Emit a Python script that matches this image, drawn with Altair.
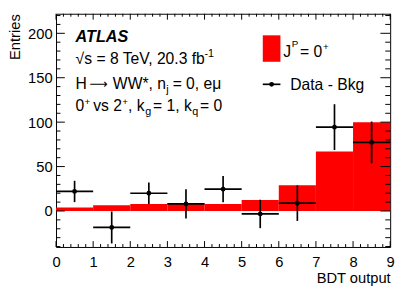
import altair as alt
import pandas as pd

# ---- data ----
bin_lo = [0, 1, 2, 3, 4, 5, 6, 7, 8]
bin_hi = [1, 2, 3, 4, 5, 6, 7, 8, 9]
signal = [4, 6.5, 8, 9, 8, 12.5, 29, 67, 100]          # J^P = 0+ expectation
data_x = [0.5, 1.5, 2.5, 3.5, 4.5, 5.5, 6.5, 7.5, 8.5]
data_y = [22, -18.5, 20, 8, 24.6, -3.3, 8.8, 94.4, 77.2]   # Data - Bkg
data_err = [12, 18, 12, 16.5, 14.7, 16, 20, 25.8, 23.5]

x_major = list(range(10))
x_minor = [i / 5 for i in range(46) if i % 5]
y_major = [0, 50, 100, 150, 200]
y_minor = [v for v in range(-40, 221, 10) if v % 50]

F = "Liberation Sans"
W, H = 341, 238

xs = alt.Scale(domain=[0, 9], nice=False, zero=False)
ys = alt.Scale(domain=[-40.5, 222], nice=False, zero=False)

bins = pd.DataFrame({"lo": bin_lo, "hi": bin_hi, "sig": signal, "zero": [0] * 9})
pts = pd.DataFrame({"x": data_x, "y": data_y, "err": data_err})
pts["ylo"] = pts["y"] - pts["err"]
pts["yhi"] = pts["y"] + pts["err"]
pts["xlo"] = pts["x"] - 0.5
pts["xhi"] = pts["x"] + 0.5

xaxis = alt.Axis(values=x_major, format="d", labelPadding=8,
                 title="BDT output", titleX=W, titleY=36, titleAlign="right",
                 titleBaseline="alphabetic", titleAngle=0)
yaxis = alt.Axis(values=y_major, format="d", labelPadding=4,
                 title="Entries", titleX=-37, titleY=0, titleAlign="right",
                 titleBaseline="alphabetic", titleAngle=270)


def X(f):
    return alt.X(f, scale=xs, axis=xaxis)


def Y(f):
    return alt.Y(f, scale=ys, axis=yaxis)


bars = alt.Chart(bins).mark_rect(color="#ff0000").encode(
    x=X("lo:Q"), x2="hi:Q", y=Y("zero:Q"), y2="sig:Q")

vbars = alt.Chart(pts).mark_rule(color="black", strokeWidth=1.7).encode(
    x=X("x:Q"), y=Y("ylo:Q"), y2="yhi:Q")
hbars = alt.Chart(pts).mark_rule(color="black", strokeWidth=1.7).encode(
    x=X("xlo:Q"), x2="xhi:Q", y=Y("y:Q"))
dots = alt.Chart(pts).mark_circle(color="black", size=24, opacity=1).encode(
    x=X("x:Q"), y=Y("y:Q"))


def xticks(vals, y0, y1):
    return alt.Chart(pd.DataFrame({"v": vals})).mark_rule(color="black", strokeWidth=1).encode(
        x=X("v:Q"), y=alt.value(y0), y2=alt.value(y1))


def yticks(vals, x0, x1):
    return alt.Chart(pd.DataFrame({"v": vals})).mark_rule(color="black", strokeWidth=1).encode(
        y=Y("v:Q"), x=alt.value(x0), x2=alt.value(x1))


ticks = [
    xticks(x_major, H, H - 6), xticks(x_minor, H, H - 3),
    xticks(x_major, 0, 6), xticks(x_minor, 0, 3),
    yticks(y_major, 0, 9), yticks(y_minor, 0, 4.5),
    yticks(y_major, W, W - 10), yticks(y_minor, W, W - 5),
]

one = pd.DataFrame({"a": [0]})


def txt(s, x, y, size=16, font=F, **kw):
    return alt.Chart(one).mark_text(text=s, font=font, fontSize=size, align="left",
                                    baseline="alphabetic", color="black", **kw).encode(
        x=alt.value(x), y=alt.value(y))


texts = [
    txt("ATLAS", 20, 29, 16.5, fontStyle="italic", fontWeight="bold"),
    txt("√s = 8 TeV, 20.3 fb", 20, 51),
    txt("-1", 151.5, 44, 11),
    txt("H", 20, 77),
    txt("⟶", 34, 76, 13, font="DejaVu Sans"),
    txt("WW*, n", 58, 77),
    txt("j", 112.5, 81, 11),
    txt("= 0, eμ", 119, 77),
    txt("0", 20, 99),
    txt("+", 29, 93, 10),
    txt("vs 2", 38, 99),
    txt("+", 67.5, 93, 10),
    txt(", k", 73.5, 99),
    txt("g", 91, 103, 11),
    txt("= 1, k", 99, 99),
    txt("q", 139, 103, 11),
    txt("= 0", 147, 99),
    # legend
    txt("J", 232, 44),
    txt("P", 240.5, 34, 10),
    txt("= 0", 249, 44),
    txt("+", 272.5, 37, 10),
    txt("Data - Bkg", 239, 78),
]

leg_box = alt.Chart(one).mark_rect(color="#ff0000").encode(
    x=alt.value(211), x2=alt.value(229), y=alt.value(22), y2=alt.value(49))
leg_line = alt.Chart(one).mark_rule(color="black", strokeWidth=1.7).encode(
    x=alt.value(211), x2=alt.value(229), y=alt.value(72))
leg_dot = alt.Chart(one).mark_circle(color="black", size=24, opacity=1).encode(
    x=alt.value(220), y=alt.value(72))

chart = alt.layer(bars, vbars, hbars, dots, *ticks, *texts, leg_box, leg_line, leg_dot).properties(
    width=W, height=H,
    autosize=alt.AutoSizeParams(type="none"),
    padding={"left": 49, "top": 3, "right": 9, "bottom": 40},
    background="white",
).configure_view(stroke="black", strokeWidth=1).configure_axis(
    ticks=False, domain=False, grid=False, labelFlush=False, labelOverlap=False,
    labelFont=F, labelFontSize=15, labelColor="black",
    titleFont=F, titleFontSize=15, titleFontWeight="normal", titleColor="black",
)

chart.save("out.html", embed_options={"renderer": "svg", "actions": False})
